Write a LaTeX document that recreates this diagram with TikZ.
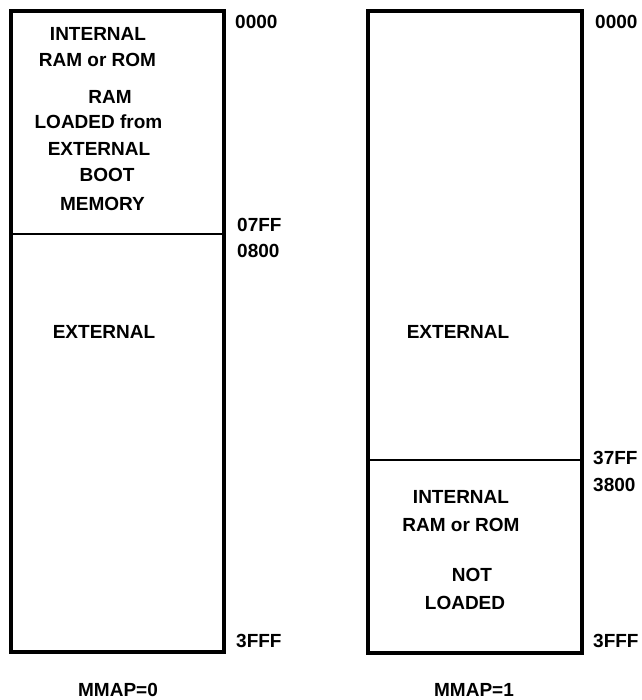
\documentclass[tikz,border=0pt]{standalone}
\usepackage{fontspec}
\setmainfont{Liberation Sans}
\begin{document}
\begin{tikzpicture}[x=1pt,y=-1pt,
  lbl/.style={font=\bfseries\fontsize{19}{22}\selectfont, inner sep=0pt, anchor=center},
  addr/.style={lbl, anchor=west},
  frame/.style={line width=4.5pt},
  divide/.style={line width=1.6pt}]
\useasboundingbox (0,0) rectangle (641,700);
\fill[white] (0,0) rectangle (641,700);
% left memory map (MMAP=0)
\draw[frame] (11,11) rectangle (224,652);
\coordinate (l1) at (11,234);
\coordinate (l2) at (224,234);
\draw[divide] (l1) -- (l2);
% right memory map (MMAP=1)
\draw[frame] (368,11) rectangle (582,653);
\coordinate (r1) at (368,460);
\coordinate (r2) at (582,460);
\draw[divide] (r1) -- (r2);
% left texts
\node[lbl] (lt1) at (98,34) {INTERNAL};
\node[lbl] (lt2) at (97.5,60) {RAM or ROM};
\node[lbl] (lt3) at (110,97) {RAM};
\node[lbl] (lt4) at (98.5,122) {LOADED from};
\node[lbl] (lt5) at (99,149) {EXTERNAL};
\node[lbl] (lt6) at (107,175) {BOOT};
\node[lbl] (lt7) at (102.5,204) {MEMORY};
\node[lbl] (lext) at (104,332) {EXTERNAL};
% right texts
\node[lbl] (rext) at (458,332) {EXTERNAL};
\node[lbl] (rt1) at (461,497) {INTERNAL};
\node[lbl] (rt2) at (461,525) {RAM or ROM};
\node[lbl] (rt3) at (472,575) {NOT};
\node[lbl] (rt4) at (465,603) {LOADED};
% addresses
\node[addr] (a0) at (235,22) {0000};
\node[addr] (a1) at (237,224.5) {07FF};
\node[addr] (a2) at (237,251) {0800};
\node[addr] (a3) at (236,641) {3FFF};
\node[addr] (b0) at (595,22) {0000};
\node[addr] (b1) at (593,458) {37FF};
\node[addr] (b2) at (593,485) {3800};
\node[addr] (b3) at (593,641) {3FFF};
% captions
\node[lbl] (c0) at (118,690) {MMAP=0};
\node[lbl] (c1) at (474,690) {MMAP=1};
\end{tikzpicture}
\end{document}
